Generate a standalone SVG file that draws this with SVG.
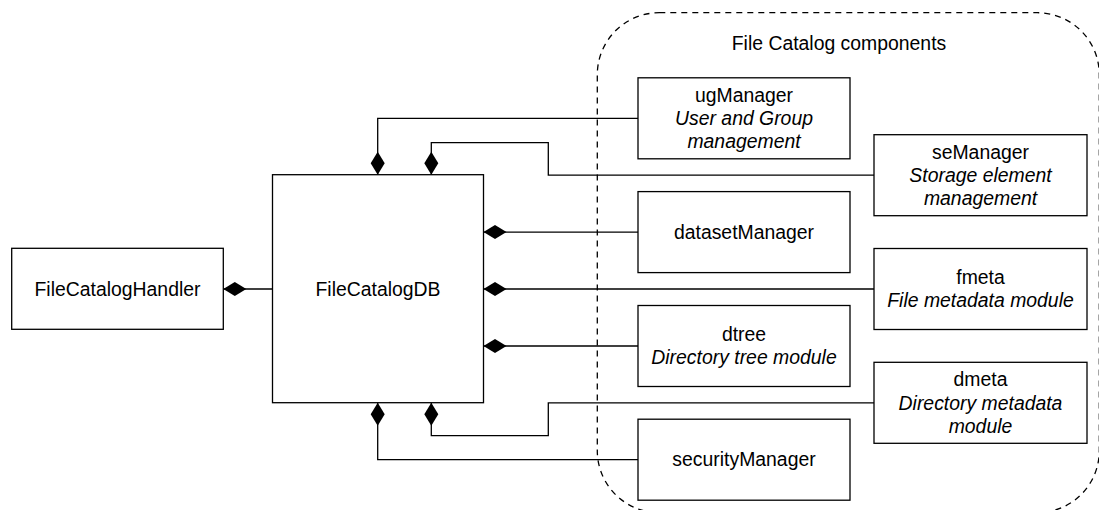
<svg xmlns="http://www.w3.org/2000/svg" width="1099" height="510" viewBox="0 0 1099 510">
  <style>
    .box { fill: #ffffff; stroke: #000000; stroke-width: 1.3; }
    .t { font-family: "Liberation Sans", Arial, Helvetica, sans-serif; font-size: 19.4px; fill: #000000; text-anchor: middle; }
    .i { font-style: italic; }
    .conn { fill: none; stroke: #000000; stroke-width: 1.3; marker-start: url(#diamond); }
    .boundary { fill: none; stroke: #000000; stroke-width: 1.3; stroke-dasharray: 6 5; }
  </style>
  <defs>
    <marker id="diamond" markerUnits="userSpaceOnUse" markerWidth="24" markerHeight="16" refX="0" refY="0" orient="auto" viewBox="0 -8 24 16" overflow="visible">
      <path d="M0,0 L11.5,-7 L23,0 L11.5,7 Z" fill="#000000" stroke="none"/>
    </marker>
  </defs>
  <rect width="1099" height="510" fill="#ffffff"/>

  <g id="components-boundary">
    <rect class="boundary" x="597.3" y="12.7" width="502" height="500" rx="62" ry="62"/>
    <text class="t" x="839" y="50">File Catalog components</text>
  </g>

  <g id="connectors">
    <path class="conn" d="M223.3,289 L272.5,289"/>
    <path class="conn" d="M483.5,232.1 L638,232.1"/>
    <path class="conn" d="M483.5,289 L874,289"/>
    <path class="conn" d="M483.5,346 L638,346"/>
    <path class="conn" d="M377.7,174.7 L377.7,118.3 L638,118.3"/>
    <path class="conn" d="M431.3,174.7 L431.3,142.7 L548.3,142.7 L548.3,175.2 L874,175.2"/>
    <path class="conn" d="M431.3,402.7 L431.3,435.7 L548.3,435.7 L548.3,402.8 L874,402.8"/>
    <path class="conn" d="M377.7,402.7 L377.7,459.7 L638,459.7"/>
  </g>

  <g id="FileCatalogHandler">
    <rect class="box" x="11.7" y="248.3" width="211.6" height="81"/>
    <text class="t" x="117.5" y="295.5">FileCatalogHandler</text>
  </g>

  <g id="FileCatalogDB">
    <rect class="box" x="272.5" y="174.7" width="211" height="228"/>
    <text class="t" x="378" y="295.7">FileCatalogDB</text>
  </g>

  <g id="ugManager">
    <rect class="box" x="638" y="77.8" width="212" height="81"/>
    <text class="t" x="744" y="101.7">ugManager</text>
    <text class="t i" x="744" y="125">User and Group</text>
    <text class="t i" x="744" y="148.3">management</text>
  </g>

  <g id="seManager">
    <rect class="box" x="874" y="134.7" width="213" height="81"/>
    <text class="t" x="980.5" y="158.6">seManager</text>
    <text class="t i" x="980.5" y="181.9">Storage element</text>
    <text class="t i" x="980.5" y="205.2">management</text>
  </g>

  <g id="datasetManager">
    <rect class="box" x="638" y="191.6" width="212" height="81"/>
    <text class="t" x="744" y="238.8">datasetManager</text>
  </g>

  <g id="fmeta">
    <rect class="box" x="874" y="248.5" width="213" height="81"/>
    <text class="t" x="980.5" y="284">fmeta</text>
    <text class="t i" x="980.5" y="307.3">File metadata module</text>
  </g>

  <g id="dtree">
    <rect class="box" x="638" y="305.5" width="212" height="81"/>
    <text class="t" x="744" y="341.1">dtree</text>
    <text class="t i" x="744" y="364.4">Directory tree module</text>
  </g>

  <g id="dmeta">
    <rect class="box" x="874" y="362.3" width="213" height="81"/>
    <text class="t" x="980.5" y="386.2">dmeta</text>
    <text class="t i" x="980.5" y="409.5">Directory metadata</text>
    <text class="t i" x="980.5" y="432.8">module</text>
  </g>

  <g id="securityManager">
    <rect class="box" x="638" y="419.2" width="212" height="81"/>
    <text class="t" x="744" y="466.4">securityManager</text>
  </g>
</svg>
